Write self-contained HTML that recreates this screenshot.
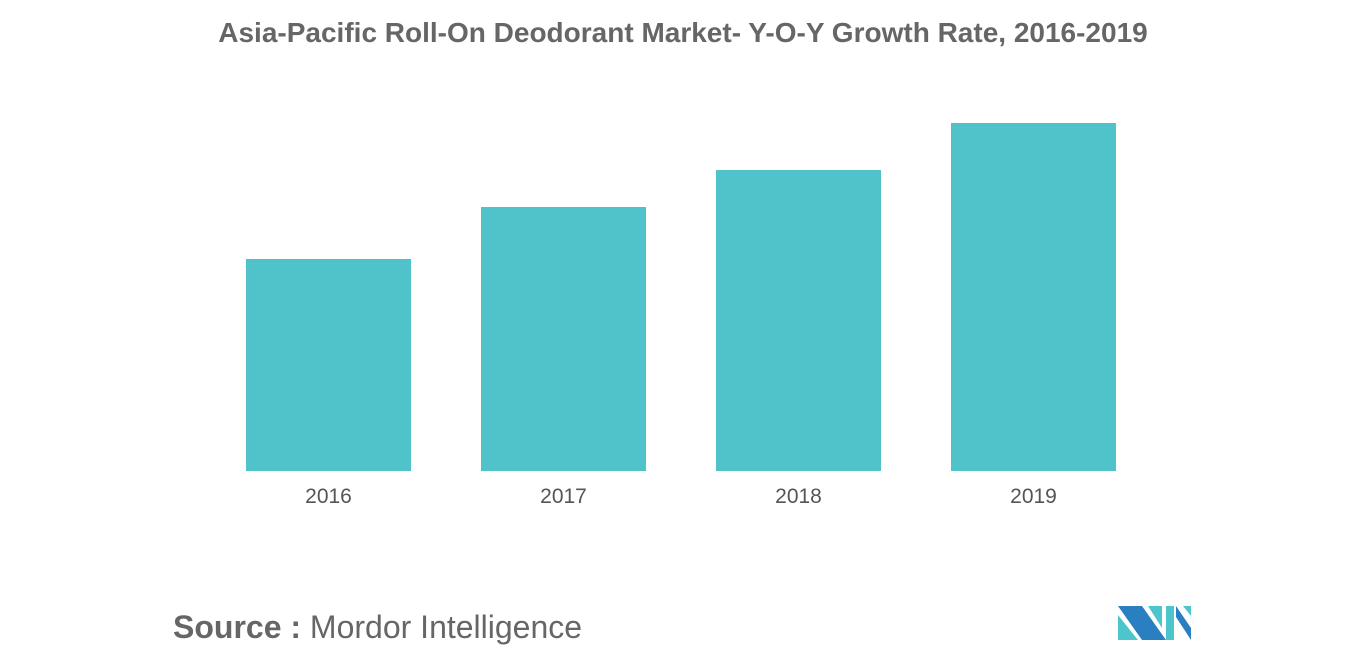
<!DOCTYPE html>
<html><head><meta charset="utf-8"><style>
body{margin:0;width:1366px;height:655px;background:#fff;overflow:hidden;font-family:"Liberation Sans",sans-serif}
</style></head><body>
<svg width="1366" height="655">
<text x="683" y="42" text-anchor="middle" font-size="28" font-weight="bold" fill="#666">Asia-Pacific Roll-On Deodorant Market- Y-O-Y Growth Rate, 2016-2019</text>
<g id="bars"></g>
<text x="173" y="638" font-size="32" fill="#666"><tspan font-weight="bold">Source :</tspan> Mordor Intelligence</text>
<g>
<polygon points="1118,606 1142,606 1166,640 1142,640" fill="#2a7fc0"/>
<polygon points="1118,615 1138,640 1118,640" fill="#4cc6cc"/>
<polygon points="1148,606 1162,606 1162,628" fill="#4cc6cc"/>
<polygon points="1166,606 1174,606 1174,640 1166,640" fill="#4cc6cc"/>
<polygon points="1176,606 1191,628 1191,640 1176,617" fill="#2a7fc0"/>
<polygon points="1183,606 1191,606 1191,616" fill="#4cc6cc"/>
</g>
</svg>
<script>
const categories=["2016","2017","2018","2019"];
const values=[2.12,2.64,3.01,3.48];
const base=471,scale=100,x0=246,step=235,bw=165;
const y=v=>base-v*scale;
const g=document.getElementById('bars');
const ns="http://www.w3.org/2000/svg";
categories.forEach((c,i)=>{
const r=document.createElementNS(ns,'rect');


r.setAttribute('x',x0+i*step);r.setAttribute('width',bw);
r.setAttribute('y',y(values[i]));r.setAttribute('height',base-y(values[i]));
r.setAttribute('fill','#4fc3c9');g.appendChild(r);
const t=document.createElementNS(ns,'text');


t.setAttribute('x',x0+i*step+bw/2);t.setAttribute('y',503);
t.setAttribute('text-anchor','middle');t.setAttribute('font-size','21');t.setAttribute('fill','#555');
t.textContent=c;g.appendChild(t);
});
</script>
</body></html>
